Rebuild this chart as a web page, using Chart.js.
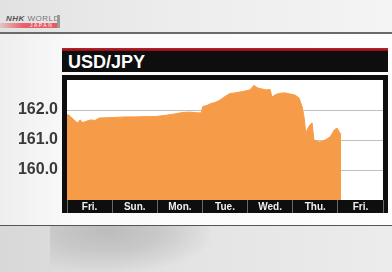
<!DOCTYPE html>
<html>
<head>
<meta charset="utf-8">
<script src="https://cdn.jsdelivr.net/npm/chart.js@4"></script>
<style>
  html, body { margin: 0; padding: 0; }
  body { width: 392px; height: 272px; position: relative; overflow: hidden;
         font-family: "Liberation Sans", Arial, sans-serif; background: #f6f6f6; }
  #topband { position: absolute; left: 0; top: 0; width: 392px; height: 33px;
             background: linear-gradient(90deg, #e2e2e2 0%, #ececec 40%, #f4f4f4 100%); }
  #topline { position: absolute; left: 0; top: 32px; width: 392px; height: 2px; background: #6a6a6a; }
  #mid { position: absolute; left: 0; top: 34px; width: 392px; height: 191px;
         background: linear-gradient(90deg, #eeeeee 0%, #fbfbfb 20%, #fdfdfd 100%); }
  #botline { position: absolute; left: 0; top: 225px; width: 392px; height: 1px; background: #555; }
  #bottom { position: absolute; left: 0; top: 226px; width: 392px; height: 46px;
            background: linear-gradient(90deg, #d8d8d8 0%, #e4e4e4 50%, #ececec 100%); }
  #map { position: absolute; left: 50px; top: 226px; width: 160px; height: 46px;
         background: radial-gradient(ellipse at 35% 10%, #bcbcbc 0%, #c8c8c8 35%, rgba(216,216,216,0) 75%); }
  #logo { position: absolute; left: 6px; top: 15px; font-size: 8px; font-weight: bold;
          font-style: italic; color: #555; letter-spacing: 0.5px; line-height: 8px; }
  #logo span { font-style: normal; font-weight: normal; color: #777; }
  #japan { position: absolute; left: 0; top: 23px; width: 58px; height: 5px;
           background: linear-gradient(90deg, rgba(230,80,90,0.2) 0%, #e8606a 40%, #e65a64 100%); }
  #japan i { position: absolute; left: 30px; top: -1px; font-size: 5px; color: #fff;
             font-style: normal; letter-spacing: 1.5px; }
  #logobar { position: absolute; left: 57px; top: 15px; width: 3px; height: 13px; background: #9a9a9a; }
  #redline { position: absolute; left: 62px; top: 48px; width: 326px; height: 3px;
             background: linear-gradient(180deg, #c2202c, #8a1018); }
  #titlebar { position: absolute; left: 62px; top: 51px; width: 326px; height: 21px; background: #0e0e0e; }
  #title { position: absolute; left: 68px; top: 52px; color: #fff; font-size: 18px; font-weight: bold;
           line-height: 20px; }
  #frame { position: absolute; left: 62px; top: 75px; width: 326px; height: 138px; background: #0e0e0e; }
  #c { position: absolute; left: 0; top: 0; }
</style>
</head>
<body>
<div id="topband"></div>
<div id="topline"></div>
<div id="mid"></div>
<div id="botline"></div>
<div id="bottom"></div>
<div id="map"></div>
<div id="logo">NHK <span>WORLD</span></div>
<div id="japan"><i>JAPAN</i></div>
<div id="logobar"></div>
<div id="redline"></div>
<div id="titlebar"></div>
<div id="title">USD/JPY</div>
<div id="frame"></div>
<canvas id="c" width="392" height="272"></canvas>
<script>
// ── Data (x = days since start of Friday, y = yen per dollar) ──
const dayLabels = ['Fri.', 'Sun.', 'Mon.', 'Tue.', 'Wed.', 'Thu.', 'Fri.'];
const yTicks = [160, 161, 162];

const times = [
  0.00, 0.04, 0.11, 0.18, 0.24, 0.29, 0.35, 0.44, 0.53, 0.62,
  0.71, 0.84, 1.06, 1.28, 1.51, 1.73, 1.95, 2.17, 2.39, 2.57,
  2.72, 2.86, 2.97, 3.01, 3.10, 3.19, 3.28, 3.35, 3.39, 3.50,
  3.61, 3.72, 3.83, 3.94, 4.05, 4.14, 4.23, 4.32, 4.41, 4.50,
  4.54, 4.63, 4.72, 4.83, 4.94, 5.05, 5.14, 5.21, 5.25, 5.29,
  5.34, 5.38, 5.43, 5.47, 5.52, 5.60, 5.72, 5.83, 5.92, 5.98,
  6.03, 6.07
];
const rates = [
  161.84, 161.83, 161.73, 161.63, 161.57, 161.67, 161.58, 161.63, 161.67, 161.65,
  161.73, 161.74, 161.75, 161.77, 161.77, 161.78, 161.78, 161.82, 161.87, 161.92,
  161.93, 161.91, 161.90, 162.12, 162.15, 162.22, 162.25, 162.30, 162.33, 162.45,
  162.55, 162.57, 162.60, 162.63, 162.67, 162.82, 162.73, 162.70, 162.67, 162.68,
  162.43, 162.52, 162.56, 162.57, 162.53, 162.50, 162.40, 162.10, 161.77, 161.23,
  161.40, 161.50, 161.57, 161.00, 160.97, 160.93, 161.00, 161.10, 161.33, 161.40,
  161.27, 161.17
];

// white plot background
const plotBg = {
  id: 'plotBg',
  beforeDraw(chart) {
    const { ctx, chartArea: a } = chart;
    ctx.save();
    ctx.fillStyle = '#ffffff';
    ctx.fillRect(a.left, a.top, a.right - a.left, a.bottom - a.top);
    ctx.restore();
  }
};

new Chart(document.getElementById('c'), {
  type: 'line',
  data: {
    datasets: [{
      data: times.map((t, i) => ({ x: t, y: rates[i] })),
      borderColor: '#f69b48',
      borderWidth: 1,
      backgroundColor: '#f69b48',
      pointRadius: 0,
      tension: 0,
      fill: 'start'
    }]
  },
  options: {
    responsive: false,
    animation: false,
    plugins: { legend: { display: false }, tooltip: { enabled: false } },
    layout: { padding: { left: 0, top: 80, right: 9, bottom: 59 } },
    scales: {
      x: { type: 'linear', min: 0, max: 7, display: false },
      days: {
        type: 'category',
        labels: dayLabels,
        position: 'bottom',
        offset: true,
        afterFit: s => { s.height = 13; },
        border: { display: false },
        grid: { offset: true, drawOnChartArea: false, drawTicks: true, tickLength: 13, color: '#6a6a6a' },
        ticks: { color: '#f0f0f0', font: { size: 10, weight: 'bold', family: 'Liberation Sans' }, padding: -12, maxRotation: 0 }
      },
      y: {
        min: 159,
        max: 163,
        z: 1,
        afterFit: s => { s.width = 67; },
        afterBuildTicks: s => { s.ticks = yTicks.map(v => ({ value: v })); },
        border: { display: false },
        grid: { color: 'rgba(0,0,0,0.25)', drawTicks: false },
        ticks: {
          color: '#3a3a3a',
          padding: 9,
          font: { size: 16, weight: 'bold', family: 'Liberation Sans' },
          callback: v => v.toFixed(1)
        }
      }
    }
  },
  plugins: [plotBg]
});
</script>
</body>
</html>
